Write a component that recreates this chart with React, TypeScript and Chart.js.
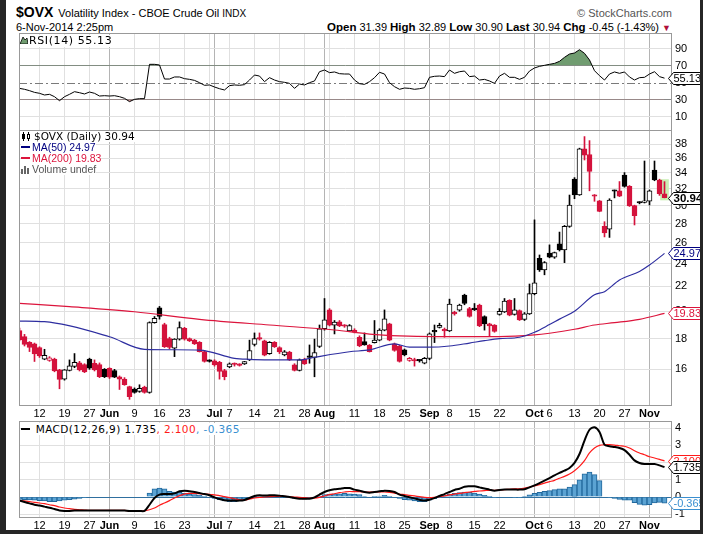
import React, { useEffect, useRef } from 'react';
import { Chart, registerables } from 'chart.js';

Chart.register(...registerables);

// ---------------- data (trading days 6-May-2014 .. 6-Nov-2014) ----------------
const opens = [18.57,18.14,17.74,17.64,17.4,16.63,16.55,16.65,15.97,15.41,
15.93,16.18,16.4,16.3,16.65,16.38,16.3,16.0,16.07,15.93,
15.55,15.41,14.98,14.83,14.7,14.95,14.64,19.14,20.27,19.0,
18.0,17.35,17.97,18.72,18.0,17.9,17.75,17.13,16.53,16.53,
16.43,15.93,16.15,16.33,16.28,16.33,16.59,17.6,18.0,17.85,
17.0,17.75,17.4,16.91,17.1,16.28,15.93,16.62,16.8,16.75,
17.47,18.7,20.1,18.95,19.2,18.95,18.55,18.6,18.1,17.8,
17.57,17.73,17.9,18.6,19.05,17.65,17.5,17.24,16.55,16.56,
16.56,16.38,16.69,18.52,18.8,18.6,18.55,19.85,20.09,21.28,
20.2,20.25,20.48,19.6,19.05,18.97,19.76,19.94,20.85,19.76,
20.05,19.38,19.8,21.4,24.5,23.43,25.0,24.6,25.9,25.3,
27.7,33.2,31.24,37.3,36.5,31.2,30.55,27.7,27.4,31.8,
31.75,33.74,32.3,30.0,30.4,30.38,30.5,34.39,33.1,31.39];

const highs = [18.75,18.3,17.8,17.7,17.45,17.28,16.8,16.7,16.0,15.99,
16.59,17.0,16.5,16.35,16.7,16.59,16.4,16.05,16.1,16.0,
15.6,15.5,15.0,14.9,15.08,15.0,19.2,19.6,20.37,19.1,
18.1,18.0,19.2,18.8,18.05,17.95,17.8,17.2,16.6,16.6,
16.5,16.0,16.4,16.4,16.35,16.5,17.9,18.4,18.4,17.9,
17.8,17.8,17.45,17.2,17.15,16.35,16.65,16.7,17.57,17.97,
18.97,21.0,20.2,19.3,19.3,19.0,19.0,18.7,18.2,18.4,
17.6,19.3,18.7,20.1,19.1,17.7,17.55,17.3,16.75,16.7,
16.6,16.75,18.4,18.97,19.1,18.75,20.95,20.0,20.55,21.35,
20.3,20.6,20.55,19.65,19.1,19.0,20.2,21.0,20.9,21.0,
20.1,19.9,22.2,28.4,24.82,24.2,25.8,25.1,27.1,27.8,
31.24,33.4,37.4,39.1,38.5,31.3,30.6,28.2,30.8,31.85,
32.9,34.05,32.4,30.05,30.45,35.6,31.85,35.6,33.2,32.89];

const lows = [17.85,17.5,17.13,16.49,16.75,16.6,16.5,15.85,14.85,15.35,
15.9,16.1,15.9,15.8,16.0,15.9,15.5,15.5,15.45,15.5,
14.81,15.05,14.26,14.6,14.65,14.6,14.6,19.1,19.4,17.4,
17.3,16.8,17.9,17.9,17.8,17.6,17.1,16.45,16.45,16.2,
15.41,15.37,16.1,16.2,16.2,16.3,16.55,17.5,17.9,16.85,
16.95,17.4,17.0,16.85,16.55,15.9,15.9,16.3,16.38,15.55,
17.4,18.6,18.9,18.33,18.85,18.8,18.5,18.4,17.45,17.55,
17.1,17.7,17.85,18.55,17.85,17.15,16.45,16.85,16.5,16.2,
16.45,16.34,16.6,17.73,18.75,18.1,18.5,19.7,20.0,20.5,
19.55,20.05,18.85,18.6,18.2,18.45,19.7,19.9,19.65,19.7,
19.3,19.3,19.75,21.3,23.3,23.0,24.55,24.5,25.2,24.1,
27.6,30.8,31.2,35.74,31.75,30.5,29.3,26.6,26.55,30.9,
31.05,32.2,29.9,27.85,30.2,30.3,30.07,33.0,31.2,30.90];

const closes = [17.91,17.61,17.40,16.97,16.85,16.88,16.72,15.91,15.40,15.97,
16.22,16.43,15.97,15.85,16.07,15.97,15.55,15.56,15.52,15.53,
15.41,15.08,14.41,14.64,14.88,14.64,19.14,19.46,19.6,17.45,
17.4,17.97,18.78,17.97,17.85,17.64,17.13,16.49,16.5,16.28,
15.87,15.56,16.34,16.3,16.25,16.48,17.2,18.0,17.97,16.9,
17.75,17.45,17.1,17.12,16.59,15.93,16.59,16.34,16.75,17.07,
18.7,19.35,18.95,19.18,18.9,18.88,18.92,18.45,17.5,17.57,
17.13,17.9,18.6,19.42,17.9,17.2,16.5,16.91,16.69,16.52,
16.53,16.69,18.33,18.48,18.95,18.55,20.55,19.8,20.48,20.6,
19.6,20.1,18.9,19.05,18.9,18.5,20.0,20.8,19.7,20.1,
19.34,19.8,21.4,22.3,23.43,24.1,24.62,25.04,25.3,27.7,
30.07,31.24,37.3,36.4,34.2,31.1,29.35,27.0,30.65,31.7,
31.1,32.3,29.95,28.85,30.3,30.45,31.75,33.1,31.39,30.94];

const ma50Idx = [0,5,18,25,36,43,46,56,59,66,70,75,78,82,86,90,93,96,100,103,106,108,111,115,117,120,124,126,129];
const ma50Val = [19.26,19.21,18.13,17.28,17.23,16.69,16.63,16.59,16.76,17.12,17.24,17.65,17.42,17.42,17.5,17.7,17.86,18.0,18.1,18.45,19.0,19.4,20.0,21.3,21.56,22.55,23.3,23.88,24.97];

const ma200Idx = [0,10,23,36,50,63,70,76,83,90,96,103,106,111,115,119,124,129];
const ma200Val = [20.61,20.35,19.96,19.39,18.97,18.61,18.32,18.19,18.14,18.14,18.14,18.26,18.38,18.66,18.97,19.14,19.39,19.83];

const rsiVals = [43.1,42.0,40.4,38.4,37.3,35.3,36.1,33.3,28.6,33.3,
36.1,39.2,38.0,36.5,38.8,37.3,34.1,34.5,34.1,34.5,
33.3,31.4,27.5,30.2,31.0,31.0,71.4,71.4,70.6,54.1,
54.1,56.5,56.5,54.5,53.7,52.5,49.8,46.7,47.1,44.7,
42.7,41.2,46.3,47.1,46.7,47.5,52.9,58.8,57.6,51.0,
55.7,52.9,51.0,50.2,49.0,43.1,48.2,47.1,49.8,51.8,
62.7,64.7,61.6,62.4,60.4,60.0,60.0,52.9,48.6,47.8,
51.0,55.7,62.0,60.0,49.8,45.1,42.0,43.5,43.1,42.0,
42.7,43.9,56.1,57.3,57.6,56.9,64.7,60.8,62.7,63.5,
56.9,57.6,52.9,53.7,51.8,49.0,57.6,60.8,56.1,56.1,
53.7,56.1,63.5,67.1,69.0,70.2,71.4,72.5,74.9,79.6,
83.5,84.7,88.6,84.3,76.5,63.9,58.0,52.9,60.0,62.4,
60.8,62.4,56.5,52.9,55.7,56.1,60.0,62.7,56.9,55.13];

const macdVals = [-0.21,-0.29,-0.37,-0.45,-0.50,-0.56,-0.62,-0.70,-0.78,-0.81,
-0.81,-0.79,-0.79,-0.79,-0.78,-0.78,-0.78,-0.78,-0.78,-0.78,
-0.78,-0.79,-0.81,-0.81,-0.81,-0.81,-0.45,-0.06,0.14,0.17,
0.17,0.21,0.33,0.37,0.33,0.29,0.23,0.17,0.10,-0.02,
-0.12,-0.19,-0.21,-0.21,-0.21,-0.17,-0.06,0.06,0.10,0.08,
0.10,0.10,0.08,0.04,0.0,-0.06,-0.10,-0.10,-0.10,-0.02,
0.14,0.29,0.39,0.45,0.48,0.52,0.52,0.43,0.37,0.29,
0.25,0.29,0.33,0.37,0.35,0.29,0.14,0.06,-0.02,-0.08,
-0.16,-0.21,-0.16,-0.06,0.06,0.17,0.29,0.41,0.48,0.60,
0.62,0.62,0.56,0.50,0.43,0.37,0.41,0.43,0.43,0.43,
0.43,0.45,0.56,0.68,0.81,0.95,1.10,1.26,1.40,1.53,
1.69,1.98,2.50,3.28,3.91,4.05,3.78,3.04,2.95,2.91,
2.85,2.73,2.46,2.13,1.98,1.92,1.92,1.92,1.84,1.735];

const signalVals = [-0.21,-0.23,-0.27,-0.31,-0.35,-0.39,-0.45,-0.50,-0.58,-0.64,
-0.68,-0.72,-0.74,-0.76,-0.78,-0.78,-0.78,-0.78,-0.78,-0.78,
-0.78,-0.78,-0.80,-0.80,-0.81,-0.81,-0.74,-0.64,-0.48,-0.35,
-0.21,-0.06,0.08,0.17,0.21,0.21,0.19,0.17,0.16,0.12,
0.08,0.02,-0.04,-0.10,-0.16,-0.17,-0.12,-0.06,-0.02,0.0,
0.02,0.04,0.04,0.04,0.02,0.0,-0.02,-0.04,-0.06,-0.06,
-0.02,0.06,0.14,0.19,0.25,0.29,0.32,0.31,0.31,0.29,
0.29,0.29,0.29,0.29,0.27,0.23,0.17,0.14,0.10,0.06,
0.02,-0.02,-0.04,-0.02,0.02,0.06,0.12,0.17,0.21,0.25,
0.29,0.33,0.35,0.37,0.39,0.39,0.41,0.43,0.45,0.47,
0.48,0.52,0.58,0.64,0.72,0.81,0.89,0.97,1.09,1.20,
1.34,1.53,1.78,2.11,2.56,2.85,3.00,3.04,3.04,3.02,
2.98,2.95,2.85,2.69,2.56,2.46,2.34,2.27,2.19,2.100];

const histVals = [-0.14,-0.16,-0.17,-0.19,-0.21,-0.23,-0.27,-0.27,-0.23,-0.19,
-0.16,-0.12,-0.08,-0.04,0,0,0,0,0,0,
0,0,0,0,0,0,0.23,0.48,0.52,0.48,
0.33,0.29,0.27,0.21,0.17,0.14,0.10,0.04,0,-0.08,
-0.16,-0.23,-0.27,-0.27,-0.23,-0.14,-0.08,0.04,0.08,0.08,
0.08,0.08,0.04,0.02,0,-0.08,-0.10,-0.12,-0.08,0,
0.04,0.14,0.17,0.19,0.19,0.21,0.19,0.17,0.14,0.02,
0,0.04,0.06,0.10,0.04,0,-0.08,-0.16,-0.19,-0.23,
-0.27,-0.27,-0.19,-0.10,-0.02,0.08,0.16,0.21,0.25,0.29,
0.27,0.23,0.17,0.10,0.04,-0.02,0,0,0,-0.02,
-0.02,0.02,0.12,0.21,0.27,0.33,0.37,0.43,0.47,0.48,
0.58,0.72,1.0,1.34,1.45,1.30,0.95,0,-0.04,-0.08,
-0.14,-0.19,-0.19,-0.33,-0.43,-0.48,-0.45,-0.35,-0.31,-0.365];

const gridIdx = [4,9,14,18,23,28,33,38,39,42,47,52,57,61,62,67,72,77,82,86,91,96,101,103,106,111,116,121,126];
const monthIdx = [18,39,61,82,103,126];
const tickLabelIdx = [4,9,14,18,23,28,33,39,42,47,52,57,61,67,72,77,82,86,91,96,103,106,111,116,121,126];
const tickLabelText = ['12','19','27','Jun','9','16','23','Jul','7','14','21','28','Aug','11','18','25','Sep','8','15','22','Oct','6','13','20','27','Nov'];
const priceTicks = [16,18,20,22,24,26,28,30,32,34,36,38];
const rsiTicks = [10,30,50,70,90];
const macdTicks = [-1,0,1,2,3,4];

// ---------------- styling ----------------
const FONT = "'Liberation Sans', Arial, sans-serif";
const PIX = "'DejaVu Sans', Verdana, sans-serif";
const RED = '#d4123c';
const NAVY = '#000080';
const MA50_LINE = '#2e2ea0';
const MA200_LINE = '#dc143c';
const MACD_BLUE = '#3a8fd0';
const X_MIN = -0.1;
const X_MAX = 130.5;

const N = closes.length;
const last = N - 1;
const idxs = closes.map((_, i) => i);
const candleColor = idxs.map((i) => (closes[i] < (i > 0 ? closes[i - 1] : opens[i]) ? RED : '#000'));
const candleFill = idxs.map((i) => (closes[i] > opens[i] ? '#fff' : candleColor[i]));

const labelFor = (v: number) => {
  const k = tickLabelIdx.indexOf(v);
  return k >= 0 ? tickLabelText[k] : '';
};

const xScale = (showLabels: boolean, height: number, pad: number) => ({
  type: 'linear',
  min: X_MIN,
  max: X_MAX,
  offset: false,
  afterBuildTicks: (s: any) => {
    s.ticks = gridIdx.map((v) => ({ value: v }));
  },
  afterFit: (s: any) => {
    s.height = height;
    s.paddingLeft = 0;
    s.paddingRight = 0;
  },
  grid: {
    offset: false,
    drawTicks: false,
    lineWidth: 1,
    color: (c: any) => (c.tick && monthIdx.includes(c.tick.value) ? '#b4b4b4' : '#e0e0e0'),
  },
  border: { display: false },
  ticks: {
    display: showLabels,
    autoSkip: false,
    maxRotation: 0,
    minRotation: 0,
    padding: pad,
    color: '#000',
    font: (c: any) => ({
      family: FONT,
      size: 11,
      weight: c.tick && monthIdx.includes(c.tick.value) ? 'bold' : 'normal',
    }),
    callback: (v: any) => labelFor(v),
  },
});

const yBase = (ticks: number[], gridColor: (v: number) => string) => ({
  position: 'right',
  afterBuildTicks: (s: any) => {
    s.ticks = ticks.map((v) => ({ value: v }));
  },
  afterFit: (s: any) => {
    s.width = 31;
    s.paddingTop = 0;
    s.paddingBottom = 0;
  },
  grid: {
    drawTicks: false,
    lineWidth: 1,
    color: (c: any) => (c.tick ? gridColor(c.tick.value) : '#e0e0e0'),
  },
  border: { display: false },
  ticks: {
    autoSkip: false,
    padding: 3,
    color: '#000',
    font: { family: FONT, size: 11 },
    callback: (v: any) => String(v),
  },
});

const panelPlugin = {
  id: 'panel',
  beforeDatasetsDraw(chart: any, _a: any, opts: any) {
    const { ctx, chartArea: a } = chart;
    if (opts && typeof opts.dashValue === 'number') {
      const y = Math.round(chart.scales.y.getPixelForValue(opts.dashValue)) + 0.5;
      ctx.save();
      ctx.strokeStyle = '#7a7a7a';
      ctx.lineWidth = 1;
      ctx.setLineDash([8, 3, 2, 3]);
      ctx.beginPath();
      ctx.moveTo(a.left, y);
      ctx.lineTo(a.right, y);
      ctx.stroke();
      ctx.restore();
    }
  },
  afterDraw(chart: any, _a: any, opts: any) {
    const { ctx, chartArea: a } = chart;
    ctx.save();
    ctx.strokeStyle = '#999';
    ctx.lineWidth = 1;
    ctx.beginPath();
    const l = a.left + 0.5;
    const r = a.right - 0.5;
    const t = a.top + 0.5;
    const b = a.bottom - 0.5;
    ctx.moveTo(l, a.top);
    ctx.lineTo(l, a.bottom);
    ctx.moveTo(r, a.top);
    ctx.lineTo(r, a.bottom);
    if (!opts.noTop) {
      ctx.moveTo(a.left, t);
      ctx.lineTo(a.right, t);
    }
    if (!opts.noBottom) {
      ctx.moveTo(a.left, b);
      ctx.lineTo(a.right, b);
    }
    ctx.stroke();
    for (const t2 of opts.tags || []) {
      const py = Math.round(chart.scales.y.getPixelForValue(t2.value)) + 0.5;
      const x0 = a.right - 3.5;
      ctx.beginPath();
      ctx.moveTo(x0, py);
      ctx.lineTo(x0 + 5, py - 6);
      ctx.lineTo(x0 + 45, py - 6);
      ctx.lineTo(x0 + 45, py + 6);
      ctx.lineTo(x0 + 5, py + 6);
      ctx.closePath();
      ctx.fillStyle = '#fff';
      ctx.fill();
      ctx.strokeStyle = t2.color;
      ctx.stroke();
      ctx.fillStyle = t2.color;
      ctx.font = `${t2.bold ? 'bold 11.5px' : '11px'} ${FONT}`;
      ctx.textBaseline = 'middle';
      ctx.textAlign = 'left';
      ctx.fillText(t2.text, x0 + 5, py + 0.5);
    }
    ctx.restore();
  },
};

const baseOptions = {
  animation: false,
  responsive: false,
  devicePixelRatio: 1,
  events: [],
  layout: { padding: { left: 19, right: 0, top: 0, bottom: 0 } },
};

function rsiConfig(): any {
  const pts = rsiVals.map((v, i) => ({ x: i, y: v }));
  return {
    type: 'line',
    data: {
      datasets: [
        {
          data: pts,
          borderColor: '#000',
          borderWidth: 1,
          pointRadius: 0,
          fill: { target: { value: 70 }, above: 'rgb(112,156,112)', below: 'rgba(0,0,0,0)' },
          clip: 0,
          order: 0,
        },
        {
          data: pts,
          borderColor: 'rgba(0,0,0,0)',
          borderWidth: 0,
          pointRadius: 0,
          fill: { target: { value: 30 }, above: 'rgba(0,0,0,0)', below: 'rgb(200,140,140)' },
          clip: 0,
          order: 1,
        },
      ],
    },
    options: {
      ...baseOptions,
      scales: {
        x: xScale(false, 0, 0),
        y: {
          type: 'linear',
          min: -5.88,
          max: 108.24,
          ...yBase(rsiTicks, (v) => (v === 70 || v === 30 ? '#888' : v === 50 ? 'rgba(0,0,0,0)' : '#e0e0e0')),
        },
      },
      plugins: {
        legend: { display: false },
        tooltip: { enabled: false },
        panel: {
          dashValue: 50,
          noBottom: true,
          tags: [{ value: rsiVals[last], text: rsiVals[last].toFixed(2), color: '#000' }],
        },
      },
    },
    plugins: [panelPlugin],
  };
}

function mainConfig(): any {
  return {
    type: 'bar',
    data: {
      datasets: [
        {
          type: 'line',
          data: ma50Idx.map((x, k) => ({ x, y: ma50Val[k] })),
          borderColor: MA50_LINE,
          borderWidth: 1.2,
          pointRadius: 0,
          cubicInterpolationMode: 'monotone',
          fill: false,
          clip: 0,
          order: 0,
        },
        {
          type: 'line',
          data: ma200Idx.map((x, k) => ({ x, y: ma200Val[k] })),
          borderColor: MA200_LINE,
          borderWidth: 1.2,
          pointRadius: 0,
          cubicInterpolationMode: 'monotone',
          fill: false,
          clip: 0,
          order: 1,
        },
        {
          type: 'bar',
          data: idxs.map((i) => ({ x: i, y: [opens[i], closes[i]] })),
          backgroundColor: candleFill,
          borderColor: candleColor,
          borderWidth: 1,
          borderSkipped: false,
          barThickness: 5,
          minBarLength: 1.5,
          grouped: false,
          clip: 0,
          order: 2,
        },
        {
          type: 'bar',
          data: idxs.map((i) => ({ x: i, y: [lows[i], highs[i]] })),
          backgroundColor: candleColor,
          borderWidth: 0,
          barThickness: 1,
          grouped: false,
          clip: 0,
          order: 3,
        },
        {
          type: 'bar',
          data: [{ x: last, y: [lows[last] * 0.992, highs[last] * 1.008] }],
          backgroundColor: '#c9efb4',
          borderWidth: 0,
          barThickness: 8,
          grouped: false,
          clip: 0,
          order: 4,
        },
      ],
    },
    options: {
      ...baseOptions,
      scales: {
        x: xScale(true, 16, 1),
        y: {
          type: 'logarithmic',
          min: 13.9,
          max: 40.1,
          ...yBase(priceTicks, () => '#e0e0e0'),
        },
      },
      plugins: {
        legend: { display: false },
        tooltip: { enabled: false },
        panel: {
          noTop: false,
          tags: [
            { value: ma200Val[ma200Val.length - 1], text: ma200Val[ma200Val.length - 1].toFixed(2), color: MA200_LINE },
            { value: ma50Val[ma50Val.length - 1], text: ma50Val[ma50Val.length - 1].toFixed(2), color: NAVY },
            { value: closes[last], text: closes[last].toFixed(2), color: '#000', bold: true },
          ],
        },
      },
    },
    plugins: [panelPlugin],
  };
}

function macdConfig(): any {
  return {
    type: 'bar',
    data: {
      datasets: [
        {
          type: 'line',
          data: macdVals.map((v, i) => ({ x: i, y: v })),
          borderColor: '#000',
          borderWidth: 2,
          pointRadius: 0,
          tension: 0.3,
          fill: false,
          clip: 0,
          order: 0,
        },
        {
          type: 'line',
          data: signalVals.map((v, i) => ({ x: i, y: v })),
          borderColor: '#ff1a1a',
          borderWidth: 1.2,
          pointRadius: 0,
          tension: 0.3,
          fill: false,
          clip: 0,
          order: 1,
        },
        {
          type: 'bar',
          data: histVals.map((v, i) => ({ x: i, y: v })),
          backgroundColor: '#5ba3d3',
          borderColor: '#22689c',
          borderWidth: 1,
          borderSkipped: 'start',
          barThickness: 5,
          grouped: false,
          clip: 0,
          order: 2,
        },
      ],
    },
    options: {
      ...baseOptions,
      scales: {
        x: xScale(true, 15, 1),
        y: {
          type: 'linear',
          min: -1.221,
          max: 4.419,
          ...yBase(macdTicks, (v) => (v === 0 ? '#2f6f9f' : '#e0e0e0')),
        },
      },
      plugins: {
        legend: { display: false },
        tooltip: { enabled: false },
        panel: {
          tags: [
            { value: histVals[last], text: histVals[last].toFixed(3), color: MACD_BLUE },
            { value: signalVals[last], text: signalVals[last].toFixed(3), color: '#ff1a1a' },
            { value: macdVals[last], text: macdVals[last].toFixed(3), color: '#000' },
          ],
        },
      },
    },
    plugins: [panelPlugin],
  };
}

const CandleIcon = () => (
  <svg width="10" height="9" style={{ verticalAlign: '-1px', marginRight: 3 }}>
    <line x1="2.5" y1="0" x2="2.5" y2="9" stroke="#000" />
    <rect x="1" y="2" width="3" height="5" fill="#000" />
    <line x1="7.5" y1="0" x2="7.5" y2="9" stroke="#000" />
    <rect x="6.5" y="2.5" width="2" height="4" fill="#fff" stroke="#000" />
  </svg>
);

const DashIcon = ({ color }: { color: string }) => (
  <span style={{ display: 'inline-block', width: 9, height: 2, background: color, verticalAlign: '3px', marginRight: 2 }} />
);

const VolIcon = () => (
  <svg width="9" height="9" style={{ verticalAlign: '-1px', marginRight: 2 }}>
    <rect x="0" y="4" width="2" height="5" fill="#666" />
    <rect x="3" y="1" width="2" height="8" fill="#666" />
    <rect x="6" y="3" width="2" height="6" fill="#666" />
  </svg>
);

const RsiIcon = () => (
  <svg width="8" height="8" style={{ verticalAlign: '0px', marginRight: 1 }}>
    <polygon points="0,8 3,1 5,4 7,2 8,8" fill="rgb(112,156,112)" stroke="#000" strokeWidth="0.8" />
  </svg>
);

const rowStyle: React.CSSProperties = { display: 'table', background: '#fff', whiteSpace: 'nowrap' };

export default function App() {
  const rsiRef = useRef<HTMLCanvasElement>(null);
  const mainRef = useRef<HTMLCanvasElement>(null);
  const macdRef = useRef<HTMLCanvasElement>(null);

  useEffect(() => {
    const charts = [
      new Chart(rsiRef.current as HTMLCanvasElement, rsiConfig()),
      new Chart(mainRef.current as HTMLCanvasElement, mainConfig()),
      new Chart(macdRef.current as HTMLCanvasElement, macdConfig()),
    ];
    return () => charts.forEach((c) => c.destroy());
  }, []);

  const chg = closes[last] - closes[last - 1];
  const pct = (chg / closes[last - 1]) * 100;

  return (
    <div
      style={{
        position: 'absolute',
        left: 0,
        top: 0,
        width: 703,
        height: 534,
        background: '#fff',
        overflow: 'hidden',
        fontFamily: FONT,
        color: '#000',
      }}
    >
      {/* header */}
      <div style={{ position: 'absolute', left: 16, top: 4, lineHeight: '16px', whiteSpace: 'nowrap' }}>
        <span style={{ fontWeight: 'bold', fontSize: 14 }}>$OVX</span>
        <span style={{ fontSize: 11, marginLeft: 5 }}>Volatility Index - CBOE Crude Oil </span>
        <span style={{ fontSize: 10 }}>INDX</span>
      </div>
      <div style={{ position: 'absolute', right: 31, top: 7, lineHeight: '13px', fontSize: 11, color: '#555', whiteSpace: 'nowrap' }}>
        © StockCharts.com
      </div>
      <div style={{ position: 'absolute', left: 16, top: 21, lineHeight: '13px', fontSize: 11, whiteSpace: 'nowrap' }}>
        6-Nov-2014 2:25pm
      </div>
      <div style={{ position: 'absolute', right: 32, top: 20, lineHeight: '14px', fontSize: 11, whiteSpace: 'nowrap' }}>
        <b style={{ fontSize: 11.5 }}>Open</b> {opens[last].toFixed(2)}{' '}
        <b style={{ fontSize: 11.5 }}>High</b> {highs[last].toFixed(2)}{' '}
        <b style={{ fontSize: 11.5 }}>Low</b> {lows[last].toFixed(2)}{' '}
        <b style={{ fontSize: 11.5 }}>Last</b> {closes[last].toFixed(2)}{' '}
        <b style={{ fontSize: 11.5 }}>Chg</b> {chg.toFixed(2)} ({pct.toFixed(2)}%){' '}
        <span style={{ color: '#b0103a', fontSize: 9 }}>▼</span>
      </div>

      {/* charts */}
      <canvas ref={rsiRef} width={703} height={97} style={{ position: 'absolute', left: 0, top: 33 }} />
      <canvas ref={mainRef} width={703} height={292} style={{ position: 'absolute', left: 0, top: 130 }} />
      <canvas ref={macdRef} width={703} height={112} style={{ position: 'absolute', left: 0, top: 421 }} />

      {/* panel legends */}
      <div style={{ position: 'absolute', left: 20, top: 35, fontFamily: PIX, fontSize: 11, lineHeight: '12px', letterSpacing: '0.6px' }}>
        <div style={rowStyle}>
          <RsiIcon />RSI(14) {rsiVals[last].toFixed(2)}
        </div>
      </div>

      <div style={{ position: 'absolute', left: 21, top: 131, fontSize: 10.5, lineHeight: '11px' }}>
        <div style={{ ...rowStyle, fontFamily: PIX }}>
          <CandleIcon />$OVX (Daily) {closes[last].toFixed(2)}
        </div>
        <div style={{ ...rowStyle, color: NAVY }}>
          <DashIcon color={NAVY} />MA(50) {ma50Val[ma50Val.length - 1].toFixed(2)}
        </div>
        <div style={{ ...rowStyle, color: MA200_LINE }}>
          <DashIcon color={MA200_LINE} />MA(200) {ma200Val[ma200Val.length - 1].toFixed(2)}
        </div>
        <div style={{ ...rowStyle, color: '#555' }}>
          <VolIcon />Volume undef
        </div>
      </div>

      <div style={{ position: 'absolute', left: 21, top: 423, fontFamily: PIX, fontSize: 10.5, lineHeight: '12px', letterSpacing: '0.4px' }}>
        <div style={rowStyle}>
          <DashIcon color="#000" /> MACD(12,26,9) {macdVals[last].toFixed(3)}
          <span style={{ color: '#ff1a1a' }}>, {signalVals[last].toFixed(3)}</span>
          <span style={{ color: MACD_BLUE }}>, {histVals[last].toFixed(3)}</span>
        </div>
      </div>

      {/* dark frame */}
      <div style={{ position: 'absolute', left: 0, top: 0, width: 6, height: 534, background: '#262626', zIndex: 10 }} />
      <div style={{ position: 'absolute', left: 700, top: 0, width: 3, height: 534, background: '#262626', zIndex: 10 }} />
      <div style={{ position: 'absolute', left: 0, top: 530, width: 703, height: 4, background: '#262626', zIndex: 10 }} />
    </div>
  );
}
